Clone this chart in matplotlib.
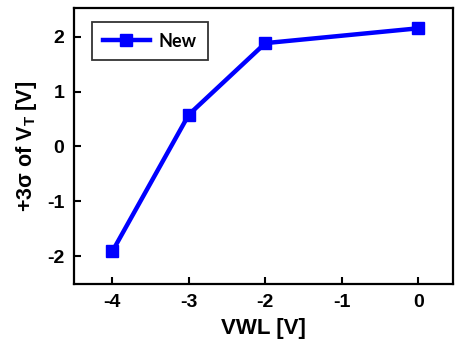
import matplotlib
matplotlib.use("Agg")
import matplotlib.pyplot as plt

# threshold voltage spread vs word-line voltage
vwl = [-4, -3, -2, 0]
sigma3_new = [-1.91, 0.58, 1.88, 2.15]
xticks = [-4, -3, -2, -1, 0]
yticks = [-2, -1, 0, 1, 2]

plt.rcParams['font.family'] = 'Liberation Sans'
plt.rcParams['font.weight'] = 'bold'
plt.rcParams['axes.unicode_minus'] = False
plt.rcParams['mathtext.fontset'] = 'custom'
plt.rcParams['mathtext.rm'] = 'Liberation Sans:bold'
plt.rcParams['mathtext.bf'] = 'Liberation Sans:bold'
plt.rcParams['mathtext.default'] = 'bf'

fig = plt.figure(figsize=(4.57, 3.45), dpi=100)
ax = fig.add_axes([0.162, 0.177, 0.829, 0.8])

ax.plot(vwl, sigma3_new, color='#0000ff', linewidth=3.2, marker='s',
        markersize=9, label='New')

ax.set_xlim(-4.5, 0.45)
ax.set_ylim(-2.5, 2.52)
ax.set_xticks(xticks)
ax.set_yticks(yticks)
ax.tick_params(direction='in', width=1.5, length=5, labelsize=14, pad=7)
for lbl in ax.get_xticklabels() + ax.get_yticklabels():
    lbl.set_fontweight('bold')
for s in ax.spines.values():
    s.set_linewidth(1.6)

ax.set_xlabel('VWL [V]', fontsize=16, fontweight='bold', labelpad=5)
ax.set_ylabel('+3σ of V$_T$ [V]', fontsize=15.5, fontweight='bold', labelpad=6)

leg = ax.legend(loc='upper left', fancybox=False, edgecolor='black',
                prop={'family': 'Lato', 'weight': 'bold', 'size': 13},
                handlelength=2.6, handletextpad=0.5, borderpad=0.6,
                borderaxespad=0.0, bbox_to_anchor=(0.047, 0.95))
leg.get_frame().set_linewidth(1.3)

fig.savefig('out.png', dpi=100)
